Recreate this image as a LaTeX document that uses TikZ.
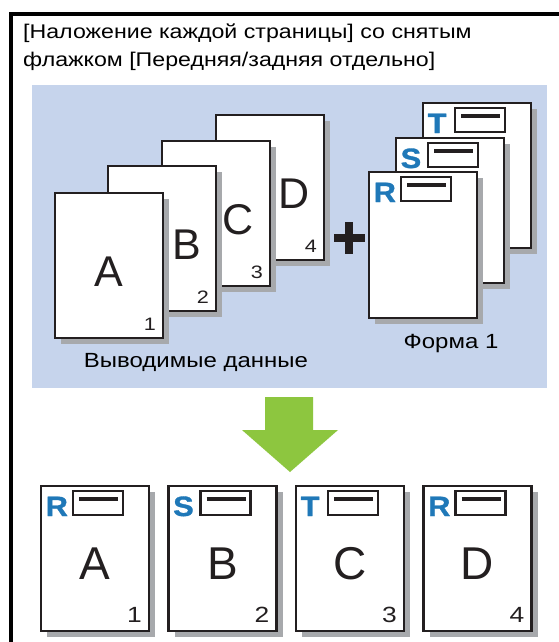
\documentclass[tikz,border=0pt]{standalone}
\usepackage{fontspec}
\setmainfont{Liberation Sans}
\newfontfamily\widesans{Liberation Sans}[FakeStretch=1.17]
\newfontfamily\numsans{Liberation Sans}[FakeStretch=1.2]
\newfontfamily\formsans{Liberation Sans Bold}[FakeStretch=1.1,FakeBold=1.2]
\usetikzlibrary{calc,shadows}
\definecolor{bluebg}{HTML}{C6D4EC}
\definecolor{letterblue}{HTML}{1F78B8}
\definecolor{arrowgreen}{HTML}{8DC63F}
\definecolor{shadowgray}{HTML}{A7A9AC}
\definecolor{inkdark}{HTML}{231F20}
\tikzset{
 pagebox/.style={draw=inkdark, line width=2.4pt, fill=white, minimum width=108pt, minimum height=145pt, inner sep=0pt, outer sep=0pt, anchor=north west, drop shadow={fill=shadowgray, draw=none, opacity=1, shadow xshift=6pt, shadow yshift=-6pt}},
 bigletter/.style={inner sep=0pt, anchor=base, text=inkdark},
 numlabel/.style={inner sep=0pt, anchor=base east, text=inkdark},
 formletter/.style={font=\formsans\fontsize{28}{28}\selectfont, text=letterblue, inner sep=0pt, anchor=base west},
 formbox/.style={draw=inkdark, line width=2.4pt},
 formbar/.style={draw=inkdark, line width=3.5pt},
 caption/.style={font=\widesans\fontsize{20.5}{20.5}\selectfont, inner sep=0pt, text=black},
 titletext/.style={font=\widesans\fontsize{19.8}{19.8}\selectfont, inner sep=0pt, text=black, anchor=base west},
}
% name, x, y, letter, letter dx, number, letter size, number size, bottom gap
\newcommand\dpage[9]{%
 \node[pagebox] (#1) at (#2,#3) {};
 \node[bigletter, font=\fontsize{#7}{#7}\selectfont] (#1L) at ($(#1.north west)+(#5,93)$) {#4};
 \node[numlabel, font=\numsans\fontsize{#8}{#8}\selectfont] (#1N) at ($(#1.south east)+(-7,-#9)$) {#6};
}
\newcommand\fmark[2]{%
 \node[formletter] (#1M) at ($(#1.north west)+(4.5,30)$) {#2};
 \draw[formbox] ($(#1.north west)+(32,5)$) rectangle ($(#1.north west)+(82,29)$);
 \draw[formbar] ($(#1.north west)+(38,13)$) -- ($(#1.north west)+(77,13)$);
}
\begin{document}
\begin{tikzpicture}[x=1pt,y=-1pt]
\useasboundingbox (0,0) rectangle (559,642);
\clip (0,0) rectangle (559,642);
\fill[white] (0,0) rectangle (559,642);
% outer frame
\draw[line width=4pt, black] (11,660) -- (11,14) -- (580,14);
% title
\node[titletext] (t1) at (23,38.5) {[Наложение каждой страницы] со снятым};
\node[titletext] (t2) at (23,66.5) {флажком [Передняя/задняя отдельно]};
% blue background
\fill[bluebg] (32,85) rectangle (547,388);
% data pages
\dpage{dD}{216}{115}{D}{78}{4}{43}{18}{8}
\dpage{dC}{162}{141}{C}{76}{3}{43}{18}{8}
\dpage{dB}{108}{166}{B}{79}{2}{43}{18}{8}
\dpage{dA}{55}{193}{A}{54}{1}{43}{18}{8}
\node[caption, anchor=base] (cap1) at (196,367) {Выводимые данные};
% plus
\draw[line width=8pt, inkdark] (334,238) -- (365,238) (349,222) -- (349,254);
% form pages
\node[pagebox] (fT) at (423,103) {};
\fmark{fT}{T}
\node[pagebox] (fS) at (396,138) {};
\fmark{fS}{S}
\node[pagebox, minimum height=146pt] (fR) at (369,172) {};
\fmark{fR}{R}
\node[caption, anchor=base] (cap2) at (451,348) {Форма 1};
% green arrow
\fill[arrowgreen] (265,397) -- (313,397) -- (313,430) -- (338,430) -- (290,472) -- (242,430) -- (265,430) -- cycle;
% output pages
\dpage{oA}{41}{486}{A}{54}{1}{46}{22}{9}
\fmark{oA}{R}
\dpage{oB}{168.5}{486}{B}{54}{2}{46}{22}{9}
\fmark{oB}{S}
\dpage{oC}{296}{486}{C}{54}{3}{46}{22}{9}
\fmark{oC}{T}
\dpage{oD}{423.5}{486}{D}{54}{4}{46}{22}{9}
\fmark{oD}{R}
\end{tikzpicture}
\end{document}
